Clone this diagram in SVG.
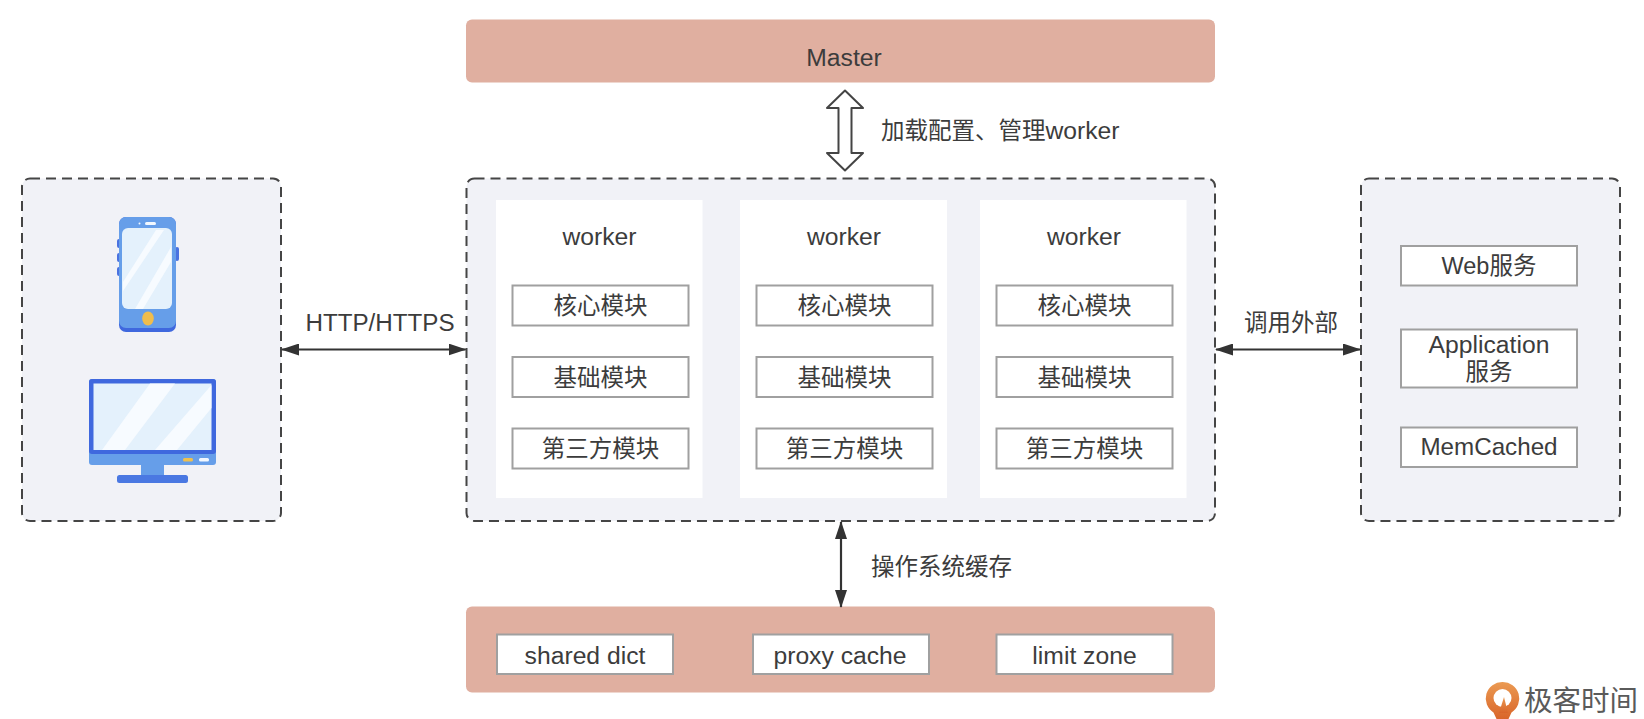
<svg xmlns="http://www.w3.org/2000/svg" width="1644" height="719" viewBox="0 0 1644 719">
<style>
text{font-family:"Liberation Sans","Noto Sans CJK SC",sans-serif;font-size:23.5px;fill:#3c3c3c;text-anchor:middle}
.start{text-anchor:start}
.lat{font-size:24.7px}
.lat2{font-size:24.2px}
.band{fill:#e0afa0}
.zone{fill:#f1f2f7;stroke:#454545;stroke-width:2;stroke-dasharray:10 6}
.card{fill:#fff}
.mod{fill:#fff;stroke:#a0a0a0;stroke-width:2}
.link{fill:none;stroke:#333;stroke-width:2.2;marker-start:url(#tip);marker-end:url(#tip)}
.logo{font-family:"Noto Sans CJK SC",sans-serif;font-size:28.5px;font-weight:400;fill:#5a5a5a}
</style>
<defs>
<marker id="tip" viewBox="0 0 18 12" refX="17" refY="6" markerWidth="18" markerHeight="12" markerUnits="userSpaceOnUse" orient="auto-start-reverse"><path d="M0 0L18 6L0 12Z" fill="#333"/></marker>
<linearGradient id="orange" x1="0" y1="0" x2="0" y2="1"><stop offset="0" stop-color="#eb9a52"/><stop offset="1" stop-color="#d9652a"/></linearGradient>
</defs>

<g id="master">
<rect class="band" x="466" y="19.5" width="749" height="63" rx="6"/>
<text class="lat" x="844" y="66">Master</text>
</g>

<g id="clients">
<rect class="zone" x="22" y="178.5" width="259" height="342.5" rx="8"/>
<g id="phone">
<rect x="117" y="239" width="4" height="9" rx="2" fill="#4a72e0"/>
<rect x="117" y="253" width="4" height="9" rx="2" fill="#4a72e0"/>
<rect x="117" y="267" width="4" height="9" rx="2" fill="#4a72e0"/>
<rect x="175" y="247" width="4" height="14" rx="2" fill="#4a72e0"/>
<rect x="119" y="217" width="57" height="115" rx="7" fill="#3f68de"/>
<rect x="119" y="217" width="57" height="111" rx="7" fill="#669ee9"/>
<rect x="122" y="228" width="50" height="81" rx="6" fill="#e4f1fc"/>
<path d="M123 282L156 230H164L123 291ZM135 309L171 247V262L143 309Z" fill="#f7fbff"/>
<circle cx="139.500" cy="223.500" r="1" fill="#f2f8ff"/>
<rect x="145" y="222" width="11" height="3" rx="1.500" fill="#f2f8ff"/>
<ellipse cx="148" cy="318.500" rx="5.800" ry="7" fill="#f0bd4d"/>
</g>
<g id="monitor">
<rect x="89" y="379" width="127" height="86" rx="3" fill="#669ee9"/>
<rect x="89" y="379" width="127" height="75" rx="3" fill="#3f68de"/>
<rect x="93.500" y="383.500" width="118" height="66.500" fill="#e4f1fc"/>
<path d="M102 450L150 383.500H175L125 450ZM155 450L211.500 385V408L177 450Z" fill="#f7fbff"/>
<rect x="183" y="458" width="10" height="3.500" rx="1.500" fill="#efc04f"/>
<rect x="199" y="458" width="10" height="3.500" rx="1.500" fill="#f2f8ff"/>
<rect x="141" y="465" width="23" height="11" fill="#669ee9"/>
<rect x="117" y="475" width="71" height="8" rx="2.500" fill="#4a78e2"/>
</g>
</g>

<g id="workers">
<rect class="zone" x="466.500" y="178.500" width="748.500" height="342.500" rx="8"/>
<g id="worker-1">
<rect class="card" x="496" y="200" width="206.500" height="298"/>
<text class="lat" x="599.500" y="245">worker</text>
<rect class="mod" x="512.500" y="285.500" width="176" height="40"/><text x="600.500" y="314">核心模块</text>
<rect class="mod" x="512.500" y="357" width="176" height="40"/><text x="600.500" y="385.500">基础模块</text>
<rect class="mod" x="512.500" y="428.500" width="176" height="40"/><text x="600.500" y="457">第三方模块</text>
</g>
<g id="worker-2">
<rect class="card" x="740" y="200" width="207" height="298"/>
<text class="lat" x="844" y="245">worker</text>
<rect class="mod" x="756.500" y="285.500" width="176" height="40"/><text x="844.500" y="314">核心模块</text>
<rect class="mod" x="756.500" y="357" width="176" height="40"/><text x="844.500" y="385.500">基础模块</text>
<rect class="mod" x="756.500" y="428.500" width="176" height="40"/><text x="844.500" y="457">第三方模块</text>
</g>
<g id="worker-3">
<rect class="card" x="980" y="200" width="206.500" height="298"/>
<text class="lat" x="1084" y="245">worker</text>
<rect class="mod" x="996.500" y="285.500" width="176" height="40"/><text x="1084.500" y="314">核心模块</text>
<rect class="mod" x="996.500" y="357" width="176" height="40"/><text x="1084.500" y="385.500">基础模块</text>
<rect class="mod" x="996.500" y="428.500" width="176" height="40"/><text x="1084.500" y="457">第三方模块</text>
</g>
</g>

<g id="external">
<rect class="zone" x="1361" y="178.500" width="259" height="342.500" rx="8"/>
<rect class="mod" x="1401" y="246" width="176" height="39.500"/><text x="1489" y="274">Web服务</text>
<rect class="mod" x="1401" y="329.500" width="176" height="58"/><text class="lat" x="1489" y="353">Application</text><text x="1489" y="380">服务</text>
<rect class="mod" x="1401" y="427.500" width="176" height="39.500"/><text class="lat2" x="1489" y="455">MemCached</text>
</g>

<g id="caches">
<rect class="band" x="466" y="606.500" width="749" height="86" rx="6"/>
<rect class="mod" x="497" y="634.500" width="176" height="39.500"/><text class="lat" x="585" y="664">shared dict</text>
<rect class="mod" x="753" y="634.500" width="176" height="39.500"/><text class="lat" x="840" y="664">proxy cache</text>
<rect class="mod" x="996.500" y="634.500" width="176" height="39.500"/><text class="lat" x="1084.500" y="664">limit zone</text>
</g>

<g id="connectors">
<path d="M845 90.500L863 108H851.500V153H863L845 170.500L827 153H838.500V108H827Z" fill="#fff" stroke="#444" stroke-width="2" stroke-linejoin="round"/>
<path class="link" d="M282 349.500H465.500"/>
<path class="link" d="M1216 349.500H1360"/>
<path class="link" d="M841 522V607"/>
</g>

<g id="connector-labels">
<text class="start" x="881" y="139">加载配置、管理<tspan class="lat">worker</tspan></text>
<text class="lat2" x="380" y="331">HTTP/HTTPS</text>
<text x="1291" y="331">调用外部</text>
<text class="start" x="871" y="575">操作系统缓存</text>
</g>

<g id="brand">
<path d="M1502.500 682a16.500 16.500 0 0 1 9 30.500l-3 6.500h-12l-3-6.500a16.500 16.500 0 0 1 9-30.500Z" fill="url(#orange)"/>
<circle cx="1502.500" cy="698" r="9" fill="#fff"/>
<path d="M1499 713L1504 697L1508 713Z" fill="url(#orange)"/>
<text class="logo" x="1581" y="711">极客时间</text>
</g>
</svg>
